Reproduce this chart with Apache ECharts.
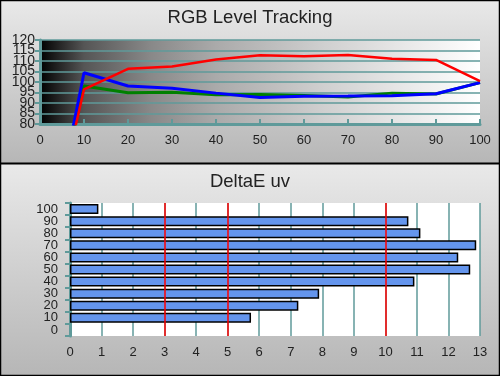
<!DOCTYPE html>
<html>
<head>
<meta charset="utf-8">
<script src="https://cdn.jsdelivr.net/npm/echarts@6/dist/echarts.min.js"></script>
<style>
  html, body { margin: 0; padding: 0; }
  #chart { width: 500px; height: 376px; }
</style>
</head>
<body>
<div id="chart"></div>
<script>
// 灰阶跟踪数据（0-100%）
const levels = [0, 10, 20, 30, 40, 50, 60, 70, 80, 90, 100];
const red   = [5, 96.5, 106.3, 107.4, 110.7, 112.7, 112.3, 112.9, 111.1, 110.5, 100.4];
const green = [8, 98.1, 94.9, 95.1, 93.9, 94.0, 93.6, 92.9, 94.7, 94.3, 99.7];
const blue  = [0, 104.4, 98.1, 97.0, 94.7, 92.6, 93.2, 93.3, 93.5, 94.4, 99.7];

// DeltaE uv 数据
const deCats = ['0', '10', '20', '30', '40', '50', '60', '70', '80', '90', '100'];
const deVals = [null, 5.74, 7.24, 7.9, 10.92, 12.69, 12.31, 12.88, 11.11, 10.73, 0.9];
const refLines = [3, 5, 10];

const teal = '#5f9a9a';
const font = 'Liberation Sans, Arial, sans-serif';
const chart = echarts.init(document.getElementById('chart'));

const panelFill = () => new echarts.graphic.LinearGradient(0, 0, 0, 1, [
  { offset: 0, color: '#e9e9e9' },
  { offset: 1, color: '#b6b6b6' }
]);

const pair = arr => levels.map((x, i) => [x, arr[i]]);
const lineSeries = (name, arr, color, w) => ({
  name, type: 'line', xAxisIndex: 0, yAxisIndex: 0,
  data: pair(arr), symbol: 'none',
  lineStyle: { color, width: w }, itemStyle: { color }
});

// 上图纵轴标签太密，拆成两条同刻度的轴分别显示（整十 / 逢五）
const topYAxis = (even, visible) => ({
  gridIndex: 0, type: 'value', min: 80, max: 120, interval: 5, position: 'left',
  axisLine: { show: visible, lineStyle: { color: teal, width: 3 } },
  axisTick: { show: visible, length: 5, lineStyle: { color: teal, width: 2 } },
  splitLine: { show: visible, lineStyle: { color: teal, width: 1.5 } },
  axisLabel: {
    color: '#222', fontSize: 14, margin: 5, lineHeight: 10,
    showMinLabel: true, showMaxLabel: true, hideOverlap: false,
    formatter: v => ((v % 10 === 0) === even ? String(v) : '')
  }
});

chart.setOption({
  animation: false,
  textStyle: { fontFamily: font },
  graphic: [
    { type: 'rect', z: -10, shape: { x: 0, y: 0, width: 500, height: 164 }, style: { fill: panelFill() } },
    { type: 'rect', z: -10, shape: { x: 0, y: 164, width: 500, height: 212 }, style: { fill: panelFill() } },
    { type: 'line', z: 10, shape: { x1: 0, y1: 163.5, x2: 500, y2: 163.5 }, style: { stroke: '#000', lineWidth: 2 } },
    { type: 'rect', z: 10, shape: { x: 0.5, y: 0.5, width: 499, height: 375 }, style: { fill: null, stroke: '#000', lineWidth: 1.5 } }
  ],
  title: [
    { text: 'RGB Level Tracking', left: 'center', top: 3,
      textStyle: { fontSize: 18.5, fontWeight: 'normal', color: '#222', fontFamily: font } },
    { text: 'DeltaE uv', left: 'center', top: 167,
      textStyle: { fontSize: 18.5, fontWeight: 'normal', color: '#222', fontFamily: font } }
  ],
  grid: [
    { left: 40, top: 40, width: 440, height: 84, show: true, borderWidth: 0,
      backgroundColor: new echarts.graphic.LinearGradient(0, 0, 1, 0, [
        { offset: 0, color: '#000' },
        { offset: 0.1, color: '#555' },
        { offset: 0.25, color: '#888' },
        { offset: 0.4, color: '#aaa' },
        { offset: 0.65, color: '#d0d0d0' },
        { offset: 1, color: '#fff' }
      ]) },
    { left: 70, top: 203, width: 410, height: 133, show: true, borderWidth: 0, backgroundColor: '#fff' }
  ],
  xAxis: [
    { gridIndex: 0, type: 'value', min: 0, max: 100, interval: 10,
      axisLine: { lineStyle: { color: teal, width: 3 } },
      axisTick: { inside: true, length: 5, lineStyle: { color: teal, width: 2 } },
      splitLine: { show: false },
      axisLabel: { color: '#222', fontSize: 13, margin: 10, showMinLabel: true, showMaxLabel: true, hideOverlap: false } },
    { gridIndex: 1, type: 'value', min: 0, max: 13, interval: 1,
      axisLine: { lineStyle: { color: teal, width: 3 } },
      axisTick: { inside: true, length: 5, lineStyle: { color: teal, width: 2 } },
      splitLine: { show: true, lineStyle: { color: teal, width: 1.5 } },
      axisLabel: { color: '#222', fontSize: 13, margin: 10, showMinLabel: true, showMaxLabel: true, hideOverlap: false } }
  ],
  yAxis: [
    topYAxis(true, true),
    { gridIndex: 1, type: 'category', data: deCats,
      axisLine: { show: true, lineStyle: { color: teal, width: 3 } },
      axisTick: { show: true, length: 5, interval: 0, lineStyle: { color: teal, width: 2 } },
      splitLine: { show: false },
      axisLabel: { color: '#222', fontSize: 13, margin: 12, lineHeight: 10, interval: 0, hideOverlap: false } },
    topYAxis(false, false)
  ],
  series: [
    lineSeries('Green', green, '#008000', 3),
    lineSeries('Blue', blue, '#0000ff', 3),
    lineSeries('Red', red, '#ff0000', 2.5),
    {
      name: 'DeltaE uv', type: 'bar', xAxisIndex: 1, yAxisIndex: 1,
      data: deVals, barWidth: 10,
      itemStyle: { color: '#6495ed', borderColor: '#000', borderWidth: 1.5 },
      markLine: {
        silent: true, symbol: 'none', label: { show: false },
        lineStyle: { color: '#ff0000', width: 1.5, type: 'solid' },
        data: refLines.map(v => ({ xAxis: v }))
      }
    }
  ]
});

window.addEventListener('resize', () => chart.resize());
</script>
</body>
</html>
